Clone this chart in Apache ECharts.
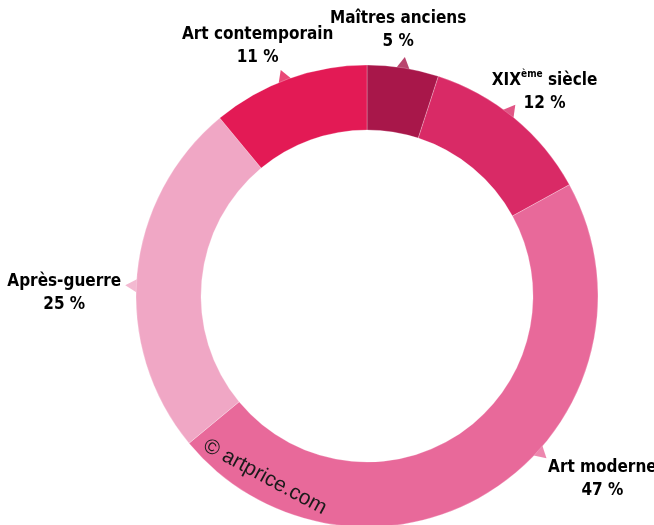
<!DOCTYPE html>
<html>
<head>
<meta charset="utf-8">
<script src="https://cdn.jsdelivr.net/npm/echarts@6/dist/echarts.min.js"></script>
<style>
html,body{margin:0;padding:0;background:#fff;}
#chart{width:654px;height:525px;}
</style>
</head>
<body>
<div id="chart"></div>
<script>
// ---- data ----
const categories = ['Maîtres anciens', 'XIXème siècle', 'Art moderne', 'Après-guerre', 'Art contemporain'];
const shares = [5, 12, 47, 25, 11];

// ---- style / layout ----
const colors = ['#a8174a', '#d92a66', '#e8699a', '#f0a7c5', '#e31a55'];
const tabShift = [0, -0.5, -3.8, -0.8, -0.3];          // angular nudge of pointer tabs (in % of circle)
const labelOffset = [[-5, -38], [36, -21], [64, 28], [-72, 7], [-27, -34]];
const CX = 367, CY = 296, R_OUT = 231, R_IN = 166, POLAR_R = 260;
const FONT = "'DejaVu Sans Condensed', 'Liberation Sans Narrow', 'Liberation Sans', sans-serif";

const total = shares.reduce((a, b) => a + b, 0);
let acc = 0;
const mids = shares.map((v, i) => {
  const m = (acc + v / 2) / total * 100 + tabShift[i];
  acc += v;
  return m;
});

function labelText(i) {
  const pct = '{b|' + shares[i] + ' %}';
  if (categories[i].indexOf('XIXème') === 0) {
    return '{b|XIX}{sup|ème}{b| siècle}\n' + pct;
  }
  return '{b|' + categories[i] + '}\n' + pct;
}

const chart = echarts.init(document.getElementById('chart'), null, {renderer: 'canvas'});
chart.setOption({
  animation: false,
  backgroundColor: '#ffffff',
  polar: {center: [CX, CY], radius: POLAR_R},
  angleAxis: {type: 'value', min: 0, max: 100, startAngle: 90, clockwise: true, show: false},
  radiusAxis: {type: 'value', min: 0, max: POLAR_R, show: false},
  series: [
    {
      type: 'pie',
      center: [CX, CY],
      radius: [R_IN, R_OUT],
      startAngle: 90,
      clockwise: true,
      silent: true,
      z: 3,
      label: {show: false},
      labelLine: {show: false},
      itemStyle: {borderColor: 'rgba(255,255,255,0.5)', borderWidth: 0.5},
      data: categories.map((c, i) => ({name: c, value: shares[i], itemStyle: {color: colors[i]}}))
    },
    {
      type: 'scatter',
      coordinateSystem: 'polar',
      silent: true,
      z: 2,
      symbol: 'triangle',
      symbolSize: [32, 28],
      data: mids.map((m, i) => ({
        value: [R_OUT - 3, m],
        symbolRotate: -m * 3.6,
        itemStyle: {color: colors[i]}
      }))
    },
    {
      type: 'scatter',
      coordinateSystem: 'polar',
      silent: true,
      z: 4,
      symbolSize: 1,
      itemStyle: {color: 'rgba(0,0,0,0)'},
      data: mids.map((m, i) => ({
        value: [R_OUT, m],
        label: {
          show: true,
          position: 'inside',
          offset: labelOffset[i],
          align: 'center',
          verticalAlign: 'middle',
          color: '#000',
          opacity: 1,
          textBorderWidth: 0,
          textBorderColor: 'transparent',
          formatter: labelText(i),
          rich: {
            b: {fontFamily: FONT, fontWeight: 'bold', fontSize: 17, lineHeight: 23, color: '#000', textBorderWidth: 0},
            sup: {fontFamily: FONT, fontWeight: 'bold', fontSize: 10, lineHeight: 23, color: '#000', textBorderWidth: 0, verticalAlign: 'top', padding: [0, 0, 7, 0]}
          }
        }
      }))
    }
  ],
  graphic: [{
    type: 'text',
    x: 265, y: 477,
    rotation: -0.496,
    silent: true,
    z: 100,
    style: {
      text: '© artprice.com',
      font: "21px 'Liberation Sans', Arial, sans-serif",
      fill: '#1a1a1a',
      align: 'center',
      verticalAlign: 'middle'
    }
  }]
});
</script>
</body>
</html>
